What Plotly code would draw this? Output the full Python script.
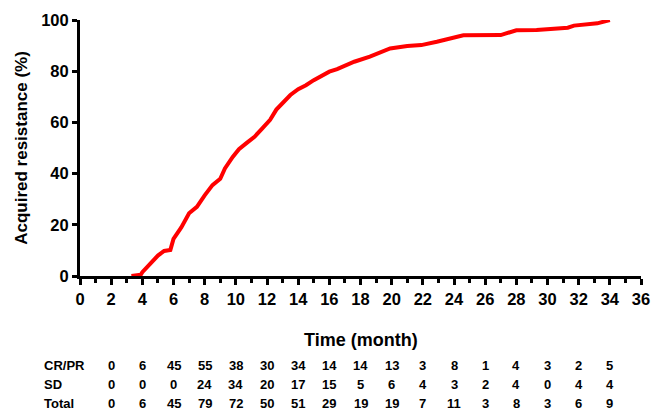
import plotly.graph_objects as go

# Cumulative acquired resistance curve
months = [3.3, 3.9, 4.0, 4.3, 4.7, 5.0, 5.4, 5.8, 6.0, 6.5, 7.0, 7.5, 8.0, 8.5, 9.0, 9.3,
          9.8, 10.2, 10.7, 11.2, 11.7, 12.2, 12.6, 13.0, 13.5, 14.0, 14.5, 15.0, 15.5,
          16.0, 16.5, 17.6, 18.6, 19.3, 19.9, 21.0, 21.9, 22.9, 23.6, 24.6, 27.0, 27.6,
          28.0, 29.3, 30.4, 31.3, 31.7, 33.2, 34.0]
resistance = [0, 0.5, 1.5, 3.6, 6, 8, 9.8, 10.2, 14.5, 19, 24.5, 27, 31.5, 35.5, 38, 42,
              46.5, 49.5, 52, 54.4, 57.7, 61, 65, 67.4, 70.7, 73, 74.5, 76.5, 78,
              79.8, 80.8, 83.7, 85.7, 87.6, 88.9, 89.8, 90.2, 91.5, 92.6, 94, 94.1, 95,
              96, 96.1, 96.7, 97, 97.8, 98.7, 100]

# Number-at-risk style table
table_months = [2, 4, 6, 8, 10, 12, 14, 16, 18, 20, 22, 24, 26, 28, 30, 32, 34]
row_labels = ["CR/PR", "SD", "Total"]
cr_pr = [0, 6, 45, 55, 38, 30, 34, 14, 14, 13, 3, 8, 1, 4, 3, 2, 5]
sd = [0, 0, 0, 24, 34, 20, 17, 15, 5, 6, 4, 3, 2, 4, 0, 4, 4]
total = [0, 6, 45, 79, 72, 50, 51, 29, 19, 19, 7, 11, 3, 8, 3, 6, 9]

x_ticks = list(range(0, 37, 2))
y_ticks = [0, 20, 40, 60, 80, 100]

FONT = "Arial, 'Liberation Sans', sans-serif"

fig = go.Figure()
fig.add_trace(go.Scatter(x=months, y=resistance, mode="lines",
                         line=dict(color="#ff0000", width=4), showlegend=False))

W, H = 653, 412
ml, mr, mt, mb = 80, 12, 20, 136
ph = H - mt - mb

def py2paper(py):
    return (H - mb - py) / ph

annotations = [dict(text="<b>Time (month)</b>", x=0.5, xref="paper", y=py2paper(340),
                    yref="paper", showarrow=False, xanchor="center", yanchor="middle",
                    font=dict(size=18, family=FONT, color="black"))]
rows = [cr_pr, sd, total]
row_py = [365, 384, 403]
for label, vals, rp in zip(row_labels, rows, row_py):
    annotations.append(dict(text=f"<b>{label}</b>", x=(42 - ml) / (W - ml - mr), xref="paper",
                            y=py2paper(rp), yref="paper", showarrow=False,
                            xanchor="left", yanchor="middle",
                            font=dict(size=13, family=FONT, color="black")))
    for m, v in zip(table_months, vals):
        annotations.append(dict(text=f"<b>{v}</b>", x=m, xref="x", y=py2paper(rp), yref="paper",
                                showarrow=False, xanchor="center", yanchor="middle",
                                font=dict(size=13, family=FONT, color="black")))

fig.update_layout(
    width=W, height=H,
    margin=dict(l=ml, r=mr, t=mt, b=mb, pad=0, autoexpand=False),
    paper_bgcolor="white", plot_bgcolor="white",
    font=dict(family=FONT, color="black"),
    annotations=annotations,
    xaxis=dict(range=[0, 36], tickvals=x_ticks, ticktext=[f"<b>{t}</b>" for t in x_ticks],
               automargin=False,
               showgrid=False, zeroline=False, showline=True, linecolor="black",
               linewidth=3, ticks="outside", ticklen=6, tickwidth=3, tickcolor="black",
               tickfont=dict(size=16.5, family=FONT, color="black"),
               minor=dict(dtick=1, tick0=0, ticks="outside", ticklen=4, tickwidth=3,
                          tickcolor="black", showgrid=False)),
    yaxis=dict(range=[0, 100], tickvals=y_ticks, ticktext=[f"<b>{t}</b>" for t in y_ticks],
               automargin=False,
               showgrid=False, zeroline=False, showline=True, linecolor="black",
               linewidth=3, ticks="outside", ticklen=5, tickwidth=3, tickcolor="black",
               tickfont=dict(size=16.5, family=FONT, color="black"),
               title=dict(text="<b>Acquired resistance (%)</b>", standoff=10,
                          font=dict(size=17, family=FONT, color="black"))),
)

fig.write_html("out.html", config={"displayModeBar": False},
               post_script="document.body.style.margin='0';")
